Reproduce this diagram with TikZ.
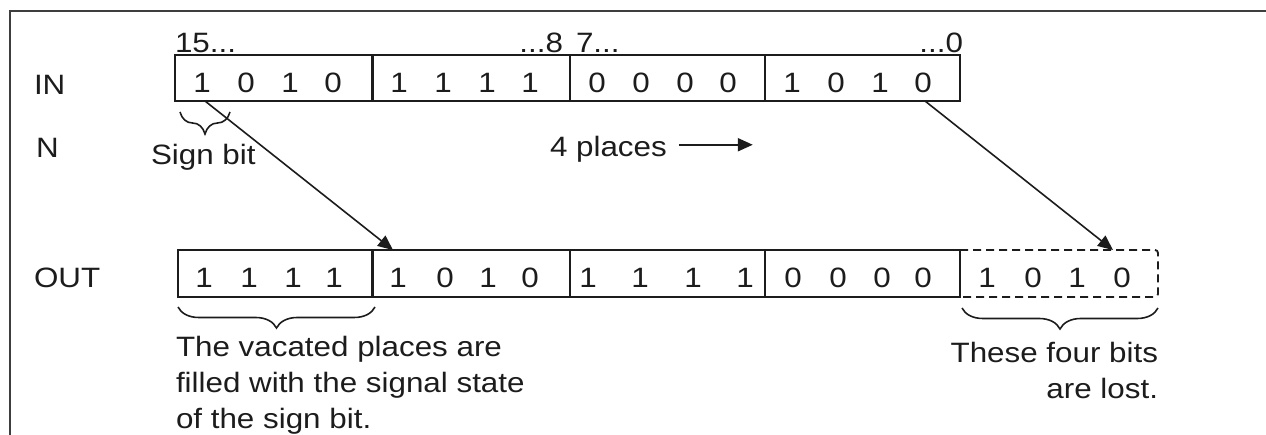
\documentclass[tikz,border=0pt]{standalone}
\usepackage{fontspec}
\setmainfont{Liberation Sans}[FakeStretch=1.12]
\usetikzlibrary{arrows.meta,decorations.pathreplacing,calc}
\definecolor{ink}{HTML}{1C1C1C}
\tikzset{
  txt/.style={font=\fontsize{28}{36}\selectfont, text=ink, inner sep=0pt, outer sep=0pt},
  grp/.style={draw=ink, line width=1.8pt, minimum height=46pt, inner sep=0pt, outer sep=0pt},
  nogrp/.style={minimum height=46pt, inner sep=0pt, outer sep=0pt},
  thickdiv/.style={draw=ink, line width=3pt},
  arr/.style={draw=ink, line width=1.6pt, -{Triangle[length=15pt,width=13pt]}},
  brc/.style={draw=ink, line width=1.6pt, decorate, decoration={brace, mirror, amplitude=#1}},
  lost/.style={draw=ink, line width=1.8pt, dash pattern=on 8pt off 5pt, rounded corners=3pt},
}
\begin{document}
\begin{tikzpicture}[x=1pt,y=-1pt]
\useasboundingbox (0,0) rectangle (1266,435);
% frame
\draw[ink!85, line width=2.2pt] (10,436) -- (10,11) -- (1267,11);

% row labels
\node[txt, anchor=base west] (lIN) at (34,95) {IN};
\node[txt, anchor=base west] (lN) at (36,158) {N};
\node[txt, anchor=base west] (lOUT) at (34,288) {OUT};

% bit index labels
\node[txt, anchor=base west] (i15) at (175,53) {15...};
\node[txt, anchor=base east] (i8) at (563,53) {...8};
\node[txt, anchor=base west] (i7) at (576,53) {7...};
\node[txt, anchor=base east] (i0) at (963,53) {...0};

% IN groups
\foreach \n/\l/\r/\da/\db/\dc/\dd in {A/175/372/1/0/1/0, B/372/570/1/1/1/1, C/570/765/0/0/0/0, D/765/960/1/0/1/0}{
  \node[grp, minimum width={\r-\l}] (in\n) at ({(\l+\r)/2},78) {};
  \foreach \o/\d [count=\i] in {27/\da, 71/\db, 115/\dc, 158/\dd}
    \node[txt] (in\n\i) at ({\l+\o},83) {\d};
}
\draw[thickdiv] (inA.north east) -- (inA.south east);

% OUT groups
\foreach \n/\l/\r/\da/\db/\dc/\dd/\oa/\ob/\oc/\od in {A/178/372/1/1/1/1/26/71/115/156, B/372/570/1/0/1/0/26/73/116/158, C/570/765/1/1/1/1/18/70/123/175, D/765/960/0/0/0/0/28/73/117/158}{
  \node[grp, minimum width={\r-\l}, minimum height=47pt] (out\n) at ({(\l+\r)/2},273.5) {};
  \foreach \o/\d [count=\i] in {\oa/\da, \ob/\db, \oc/\dc, \od/\dd}
    \node[txt] (out\n\i) at ({\l+\o},278) {\d};
}
\node[nogrp, minimum width=198pt, minimum height=47pt] (outE) at (1059,273.5) {};
\foreach \o/\d [count=\i] in {27/1, 73/0, 117/1, 162/0}
  \node[txt] (outE\i) at ({960+\o},278) {\d};
\draw[lost] (outE.north west) -- (outE.north east) -- (outE.south east) -- (outE.south west);
\draw[thickdiv] (outA.north east) -- (outA.south east);

% sign bit
\draw[brc=22pt] ($(inA.south west)+(5,11)$) -- ($(inA.south west)+(55,11)$);
\node[txt, anchor=base west] (sign) at (151,165) {Sign bit};

% shift amount
\node[txt, anchor=base west] (places) at (550,157) {4 places};
\coordinate (pEnd) at ($(places.east)+(86,-5)$);
\draw[arr, line width=2pt] ($(places.east)+(12,-5)$) -- (pEnd);

% connectors
\coordinate (t1) at ($(outB.north west)+(21,0)$);
\coordinate (t2) at ($(outE.north west)+(153,0)$);
\draw[arr] ($(inA.south west)+(30,0)$) -- (t1);
\draw[arr] ($(inD.south west)+(160,0)$) -- (t2);

% lower braces
\draw[brc=21pt] ($(outA.south west)+(0,10)$) -- ($(outA.south east)+(3,10)$);
\draw[brc=21pt] ($(outE.south west)+(2,11)$) -- ($(outE.south east)+(0,11)$);

\node[txt, anchor=north west, align=left] (vac) at (176,336)
  {The vacated places are\\filled with the signal state\\of the sign bit.};
\node[txt, anchor=north east, align=right] (lostT) at (1158,342)
  {These four bits\\are lost.};
\end{tikzpicture}
\end{document}
